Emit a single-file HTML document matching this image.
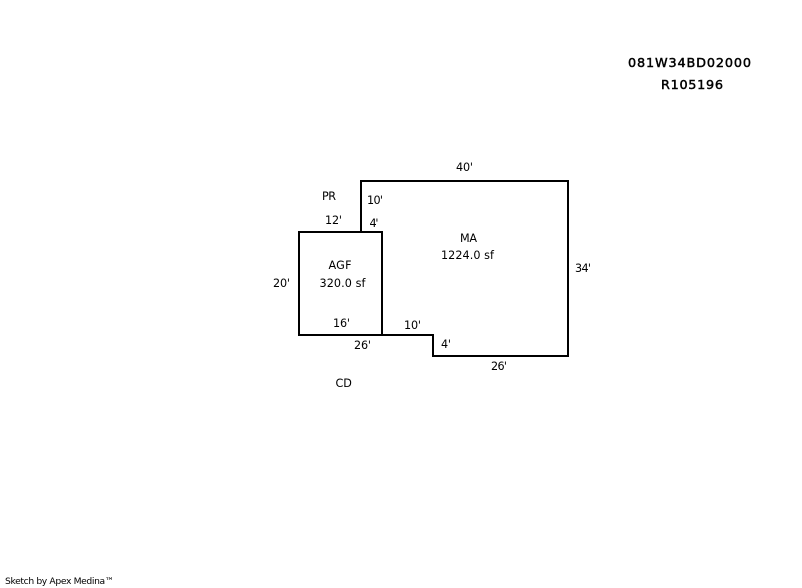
<!DOCTYPE html>
<html>
<head>
<meta charset="utf-8">
<style>
html,body{margin:0;padding:0;background:#fff;width:802px;height:588px;overflow:hidden}
svg{display:block}
text{font-family:"DejaVu Sans","Liberation Sans",sans-serif;font-size:11.2px;fill:#000}
.t{font-size:12.8px;stroke:#000;stroke-width:.45px}
.f{font-size:9.2px}
</style>
</head>
<body>
<svg width="802" height="588" viewBox="0 0 802 588" xmlns="http://www.w3.org/2000/svg">
<rect x="0" y="0" width="802" height="588" fill="#fff"/>
<g fill="none" stroke="#000" stroke-width="2" stroke-linecap="square" shape-rendering="crispEdges">
<path d="M361 232V181H568V356H433V335H299V232H382V335"/>
</g>
<text class="t" x="628" y="67" textLength="123" lengthAdjust="spacing">081W34BD02000</text>
<text class="t" x="661" y="89" textLength="62" lengthAdjust="spacing">R105196</text>
<text x="456" y="171" textLength="17" lengthAdjust="spacing">40'</text>
<text x="367" y="204" textLength="16" lengthAdjust="spacing">10'</text>
<text x="322" y="200" textLength="14" lengthAdjust="spacing">PR</text>
<text x="325" y="224" textLength="17" lengthAdjust="spacing">12'</text>
<text x="369.5" y="227" textLength="9" lengthAdjust="spacing">4'</text>
<text x="328.5" y="269" textLength="23" lengthAdjust="spacing">AGF</text>
<text x="319.5" y="287" textLength="46" lengthAdjust="spacing">320.0 sf</text>
<text x="273" y="287" textLength="17" lengthAdjust="spacing">20'</text>
<text x="333" y="327" textLength="17" lengthAdjust="spacing">16'</text>
<text x="404" y="329" textLength="17" lengthAdjust="spacing">10'</text>
<text x="354" y="349" textLength="17" lengthAdjust="spacing">26'</text>
<text x="335.5" y="387">CD</text>
<text x="441" y="348" textLength="10" lengthAdjust="spacing">4'</text>
<text x="460" y="242" textLength="17" lengthAdjust="spacing">MA</text>
<text x="441" y="259" textLength="53" lengthAdjust="spacing">1224.0 sf</text>
<text x="575" y="272" textLength="16" lengthAdjust="spacing">34'</text>
<text x="491" y="370" textLength="16" lengthAdjust="spacing">26'</text>
<text class="f" x="5" y="584" textLength="109" lengthAdjust="spacing">Sketch by Apex Medina™</text>
</svg>
</body>
</html>
